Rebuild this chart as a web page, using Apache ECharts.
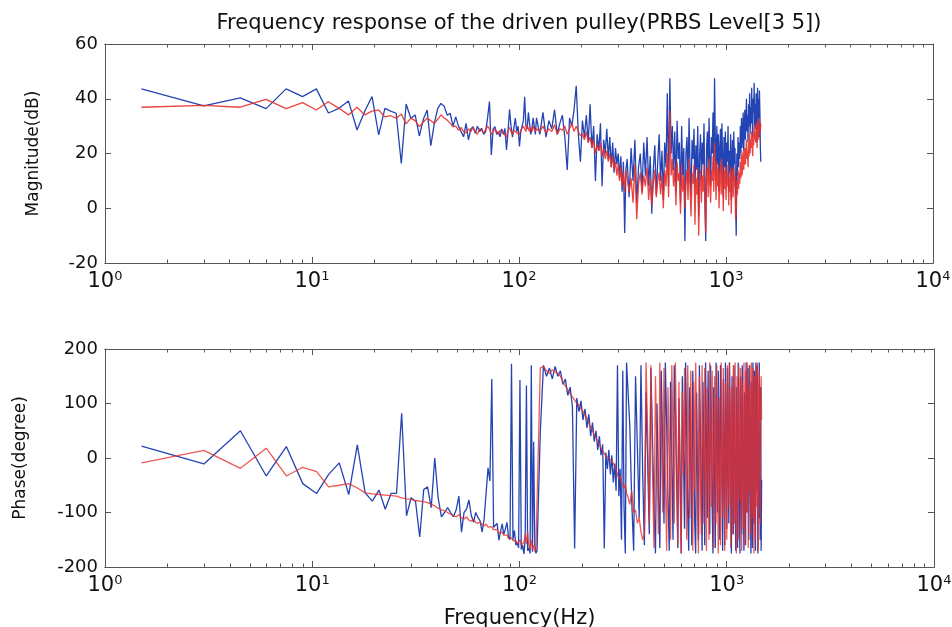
<!DOCTYPE html>
<html lang="en">
<head>
    <meta charset="UTF-8">
    <title>Frequency response of the driven pulley</title>
    <script src="https://cdn.jsdelivr.net/npm/echarts@6/dist/echarts.min.js"></script>
    <style>
        html, body {
            margin: 0;
            height: 100%;
            background: #fff;
        }
    </style>
</head>
<body>
<div id="main" style="width: 952px;height: 627px"></div>
<script>
    // sample spacing of the FFT (Hz); low part every bin, mid every 3rd bin, high every 5th bin
    var df = 1.5;

    var decadeTicks = [1, 10, 100, 1000, 10000];
    var minorTicks = [2, 3, 4, 5, 6, 7, 8, 9, 20, 30, 40, 50, 60, 70, 80, 90,
        200, 300, 400, 500, 600, 700, 800, 900, 2000, 3000, 4000, 5000, 6000, 7000, 8000, 9000];

    // magnitude (dB), blue
    var magBlueLow = [43.6, 37.4, 40.3, 36.4, 43.6, 40.8, 43.6, 34.8, 36.5, 39.2,
        28.6, 35.5, 40.8, 26.8, 36.5, 35.5, 34.7, 16.4, 38.1, 32.9,
        34.1, 26.4, 32.5, 35.9, 22.9, 31, 36.5, 38.3, 37.3, 34,
        34.7, 30, 33.4, 30, 28, 26.1, 31, 25, 29, 29.8,
        27.4, 30, 28, 29.2, 27, 28, 33, 39, 19.5, 29,
        29.8, 27, 28, 26.1, 29, 27, 29.2, 21.3, 28, 36.1,
        30, 26, 25.5, 32.9, 28, 30, 22.6, 28, 28, 32,
        40.7, 30, 29, 35, 31, 27, 29, 33, 30, 27];
    var magBlueMid = [33, 27, 35, 26, 32, 29, 36, 27, 31, 34, 26, 14, 33, 30, 36, 44.7, 27, 17,
        32, 26, 34, 24, 38, 22, 30, 10, 27, 21,
        31, 8, 25, 20, 29, 18, 26, 15, 24, 13,
        22, 16, 20, 11, 19, 6, 17, -9, 14];
    var magBlueHigh = [18, 4, 22, 10, 25, 2, 15, 20, 6, 24,
        12, 26, 8, 19, -2, 14, 23, 5, 17, 27,
        10, 21, 3, 24, 15, 42, 8, 47.5, 20, 30,
        14, 28, 6, 32, 18, 24, 2, 30, 12, 22,
        -12, 20, 26, 9, 33, 15, 4, 25, 18, 29,
        7, 23, 14, 30, -3, 19, 27, 10, 24, 16,
        31, 5, -12, 22, 28, 12, 33, 18, 8, 26,
        20, 35, 14, 47.5, 25, 10, 30, 16, 27, 6,
        22, 29, 12, 31, 18, 4, 26, 15, 28, 9,
        24, 17, 30, 6, 21, 13, 27, 3, 19, 25,
        10, 28, 16, 22, 1, -10, 20, 12, 26, 15,
        24, 18, 30, 20, 33, 22, 27, 35, 21, 29,
        36, 25, 32, 40, 28, 34, 24, 38, 30, 42,
        27, 37, 31, 44, 33, 26, 40, 35, 45.8, 30,
        38, 29, 42, 36, 24, 44, 33, 40, 26, 43,
        35, 22, 17];

    // magnitude (dB), red
    var magRedLow = [36.9, 37.6, 36.9, 39.8, 36.4, 38.6, 35.9, 38.9, 36.5, 34.1,
        36.9, 34.1, 35.5, 35.9, 33.4, 33.8, 32.9, 34.4, 30.8, 32.9,
        32, 29.8, 31.5, 32.9, 32, 31, 32.5, 34.1, 33, 32.2,
        31, 29.8, 30, 28.5, 29.5, 28, 27.5, 29, 28, 29.5,
        28, 27, 29, 28.5, 27.5, 28, 30, 29, 27, 28,
        29, 28, 27, 28.5, 29, 27.5, 28, 26, 28.5, 29.5,
        28, 27, 28.5, 29, 27.5, 28, 27, 28.5, 29, 30,
        29, 28, 30.5, 29, 28, 29.5, 28, 30, 29, 28];
    var magRedMid = [29, 28, 30, 27.5, 29, 28, 30.5, 27, 29, 28.5, 30, 27, 29, 31, 28, 30, 28, 26.5,
        27, 25, 28, 24, 26, 22, 25, 20, 23, 21,
        24, 19, 22, 18, 21, 17, 20, 15, 19, 14,
        17, 12, 16, 10, 15, 8, 13, 6, 14];
    var magRedHigh = [14, 6, 11, 2, 16, -4, 9, 13, 5, 12,
        8, 15, 3, 11, 1, 9, 14, 4, 10, 13,
        5, 12, 0, 14, 8, 20, 4, 35.6, 12, 18,
        8, 15, 1, 17, 10, 13, -2, 16, 6, 12,
        0, 10, 14, 3, 18, 7, -3, 13, 9, 16,
        -6, 11, 5, 15, -10, 8, 14, 2, 12, 6,
        16, 1, -9, 12, 15, 4, 18, 9, 2, 14,
        10, 19, 6, 24, 13, 3, 17, 8, 15, 0,
        12, 16, 5, 18, 9, -1, 14, 7, 15, 3,
        13, 8, 16, 1, 11, 6, 15, -2, 10, 14,
        4, 15, 8, 12, -4, -1, 10, 5, 14, 7,
        13, 9, 17, 11, 20, 12, 16, 21, 14, 18,
        22, 16, 20, 25, 18, 21, 15, 24, 19, 27,
        20, 25, 22, 28, 24, 19, 27, 23, 30, 25,
        28, 24, 31, 27, 22, 32, 26, 30, 25, 33,
        30, 28, 31];

    // phase (degree), blue
    var phBlueLow = [22, -11, 50, -33, 21, -47, -65, -30, -9, -67,
        24, -64, -79, -59, -94, -65, -65, 82, -106, -73,
        -80, -145, -58, -53, -91, 0, -73, -108, -100, -91,
        -100, -108, -95, -70, -136, -100, -94, -77, -105, -118,
        -100, -109, -115, -136, -112, -109, -18, -42, 145, -127,
        -130, -120, -151, -135, -121, -140, -130, -118, -145, -150,
        173, -150, -133, -160, -155, -165, 143, -168, -160, -176,
        -150, 133, -170, -165, -175, 170, -172, 30, -160, -175];
    var phBlueMid = [-170, 48, 170, 150, 165, 145, 168, 150, 160, 135, 145, 115, 130, 95, -166, 110, 85, 105,
        70, 90, 55, 80, 40, 65, 30, 50, 15, 40,
        5, 25, -166, 10, -20, 15, -30, 5, -45, -10,
        -60, 170, -70, -20, -150, 160, -90, -175, 175];
    var phBlueHigh = [175, 60, -80, -170, 150, 20, -110, 170, -30, -160,
        120, -10, -140, 165, 40, -90, -175, 100, -50, -165,
        160, 30, -120, 175, 60, -70, -170, 140, 0, -150,
        170, 80, -40, -165, 110, -20, -175, 150, 10, -130,
        175, 50, -100, -170, 130, -10, -160, 160, 40, -120,
        -175, 120, -30, -150, 170, 60, -80, -170, 140, -20,
        -160, 175, 30, -110, 160, 0, -140, 170, 70, -90,
        -175, 130, -40, -165, 175, 50, -100, 160, 20, -150,
        170, 80, -60, -170, 145, -10, -160, 175, 40, -130,
        165, 20, -120, 175, 90, -50, -175, 150, 0, -140,
        170, 60, -90, -170, 130, -30, -165, 175, 50, -110,
        -175, 150, 10, -140, 170, 70, -80, -170, 120, -40,
        -160, 175, 40, -100, 165, 0, -150, 170, 80, -60,
        -175, 140, -20, -165, 175, 30, -120, 160, 50, -170,
        175, 90, -60, 170, -175, 40, -110, 175, 20, -150,
        130, -170, -40];

    // phase (degree), red
    var phRedLow = [-9, 14, -19, 18, -33, -17, -25, -53, -50, -47,
        -55, -64, -66, -67, -68, -69, -70, -73, -75, -76,
        -78, -79, -80, -82, -85, -88, -92, -95, -97, -100,
        -103, -106, -108, -104, -110, -112, -108, -114, -116, -112,
        -118, -120, -117, -122, -125, -121, -127, -130, -126, -132,
        -135, -131, -138, -140, -136, -142, -145, -141, -148, -150,
        -146, -152, -155, -151, -158, -157, -150, -160, -163, -155,
        -140, -158, -135, -162, -166, -150, -168, -160, -172, -165];
    var phRedMid = [-168, 165, 168, 160, 155, 162, 158, 155, 150, 140, 132, 125, 118, 112, 106, 100, 97, 90,
        85, 79, 73, 64, 57, 50, 42, 37, 30, 25,
        18, 13, 8, 4, 2, -1, -3, -5, -8, -15,
        -22, -30, -38, -33, -45, -42, -55, -48, -65];
    var phRedHigh = [-70, -85, -60, -100, -95, -120, -110, -135, -150, -140,
        175, 40, -120, 170, -20, -165, 150, 10, -140, 175,
        60, -100, 165, -40, -170, 130, -10, -150, 170, 30,
        -120, 175, 20, -160, 140, -60, -175, 120, -30, 165,
        0, -150, 170, 50, -110, 160, -20, -170, 140, -60,
        175, 70, -100, -175, 150, 0, -140, 170, 40, -120,
        165, -30, -170, 130, 20, -150, 175, 60, -90, 160,
        -10, -165, 150, 40, -120, 170, -50, -175, 110, -20,
        -160, 175, 30, -110, 165, -40, -170, 140, 0, -150,
        170, 60, -90, 175, -20, -165, 130, 20, -140, 170,
        40, -120, 175, -60, -175, 150, 10, -150, 170, 80,
        -80, 165, -30, -170, 140, 30, -130, 175, -20, -160,
        160, 50, -100, 175, -10, -165, 130, -60, 170, 20,
        -140, 175, 60, -110, 165, -30, -175, 150, 0, -150,
        170, 70, -90, 175, -40, -170, 120, 160, 30, -120,
        80, 150, 70];

    // pair the values with their frequency bins
    function build(low, mid, high) {
        var out = [];
        low.forEach(function (v, i) { out.push([(1 + i) * df, v]); });
        mid.forEach(function (v, i) { out.push([(81 + 3 * i) * df, v]); });
        high.forEach(function (v, i) { out.push([(222 + 5 * i) * df, v]); });
        return out;
    }

    var axisColor = '#555';
    var blue = '#2544b3';
    var red = '#e8302b';

    function xAxisOf(grid, pos, opts) {
        var ax = {
            type: 'log',
            logBase: 10,
            gridIndex: grid,
            position: pos,
            min: 1,
            max: 10000,
            axisLine: {show: true, onZero: false, lineStyle: {color: axisColor, width: 1}},
            axisTick: {show: true, inside: true, length: opts.tickLen, lineStyle: {color: axisColor}, customValues: opts.ticks},
            axisLabel: {show: false},
            splitLine: {show: false},
            minorTick: {show: false}
        };
        if (opts.label) {
            ax.axisLabel = {
                show: true,
                margin: 7,
                customValues: decadeTicks,
                formatter: function (v) {
                    return '{b|10}{s|' + Math.round(Math.log10(v)) + '}';
                },
                rich: {
                    b: {fontFamily: 'DejaVu Sans', fontSize: 21, color: '#111', lineHeight: 24},
                    s: {fontFamily: 'DejaVu Sans', fontSize: 13, color: '#111', verticalAlign: 'top', lineHeight: 14}
                }
            };
        }
        if (opts.name) {
            ax.name = opts.name;
            ax.nameLocation = 'middle';
            ax.nameGap = opts.nameGap;
            ax.nameTextStyle = {fontFamily: 'DejaVu Sans', fontSize: 21, color: '#111'};
        }
        return ax;
    }

    function yAxisOf(grid, pos, min, max, step, name, gap) {
        var ax = {
            type: 'value',
            gridIndex: grid,
            position: pos,
            min: min,
            max: max,
            interval: step,
            axisLine: {show: true, onZero: false, lineStyle: {color: axisColor, width: 1}},
            axisTick: {show: true, inside: true, length: 6, lineStyle: {color: axisColor}},
            axisLabel: {show: pos === 'left', margin: 7, fontFamily: 'DejaVu Sans', fontSize: 18, color: '#111'},
            splitLine: {show: false}
        };
        if (name) {
            ax.name = name;
            ax.nameLocation = 'middle';
            ax.nameGap = gap;
            ax.nameTextStyle = {fontFamily: 'DejaVu Sans', fontSize: 17, color: '#111'};
        }
        return ax;
    }

    function lineSeries(name, xi, yi, color, alpha, data) {
        return {
            name: name,
            type: 'line',
            xAxisIndex: xi,
            yAxisIndex: yi,
            showSymbol: false,
            symbol: 'none',
            animation: false,
            lineStyle: {color: color, width: 1.3, opacity: alpha},
            data: data
        };
    }

    var myChart = echarts.init(document.getElementById('main'));

    var option = {
        backgroundColor: '#fff',
        animation: false,
        grid: [
            {left: 105, top: 44, width: 828, height: 219, outerBoundsMode: 'none', containLabel: false},
            {left: 105, top: 349, width: 829, height: 218, outerBoundsMode: 'none', containLabel: false}
        ],
        xAxis: [
            xAxisOf(0, 'bottom', {tickLen: 6, label: true}),
            xAxisOf(0, 'bottom', {tickLen: 3.5, ticks: minorTicks}),
            xAxisOf(0, 'top', {tickLen: 6, name: 'Frequency response of the driven pulley(PRBS Level[3 5])', nameGap: 10}),
            xAxisOf(0, 'top', {tickLen: 3.5, ticks: minorTicks}),
            xAxisOf(1, 'bottom', {tickLen: 6, label: true, name: 'Frequency(Hz)', nameGap: 41}),
            xAxisOf(1, 'bottom', {tickLen: 3.5, ticks: minorTicks}),
            xAxisOf(1, 'top', {tickLen: 6}),
            xAxisOf(1, 'top', {tickLen: 3.5, ticks: minorTicks})
        ],
        yAxis: [
            yAxisOf(0, 'left', -20, 60, 20, 'Magnitude(dB)', 63),
            yAxisOf(0, 'right', -20, 60, 20),
            yAxisOf(1, 'left', -200, 200, 100, 'Phase(degree)', 76),
            yAxisOf(1, 'right', -200, 200, 100)
        ],
        series: [
            lineSeries('mag blue', 0, 0, blue, 1, build(magBlueLow, magBlueMid, magBlueHigh)),
            lineSeries('mag red', 0, 0, red, 0.9, build(magRedLow, magRedMid, magRedHigh)),
            lineSeries('phase blue', 4, 2, blue, 1, build(phBlueLow, phBlueMid, phBlueHigh)),
            lineSeries('phase red', 4, 2, red, 0.8, build(phRedLow, phRedMid, phRedHigh))
        ]
    };

    myChart.setOption(option);
</script>
</body>
</html>
